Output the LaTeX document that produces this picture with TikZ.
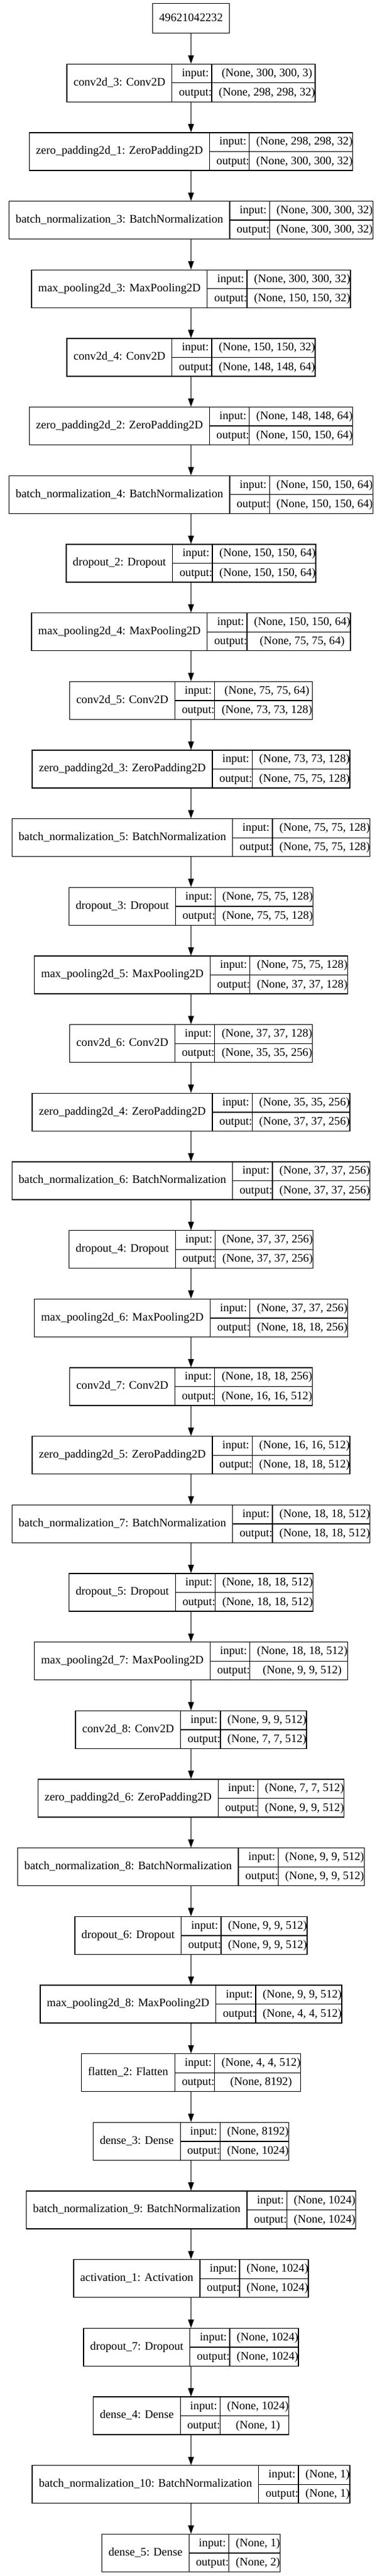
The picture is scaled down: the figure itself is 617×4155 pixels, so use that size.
\documentclass[tikz,border=0pt]{standalone}
\usepackage{fontspec}
\setmainfont{Liberation Serif}
\usetikzlibrary{arrows.meta}
\newcommand\kfnt{\fontsize{18.67}{22}\selectfont}
\tikzset{
  lay/.style={draw=black, line width=1.33pt, rectangle, inner sep=0pt, font=\kfnt},
  arr/.style={line width=1.33pt, -{Triangle[length=13.33pt,width=9.33pt]}},
}
\newcommand\kercell[1]{\rule[-9.93pt]{0pt}{29.83pt}\hspace{10.67pt}#1\hspace{10.67pt}}
\newcommand\kerlab[1]{\hspace{10.67pt}#1\hspace{10.67pt}}
% #1 name, #2 row, #3 label, #4 input shape, #5 output shape
\newcommand\kerlayer[5]{%
  \node[lay] (#1) at (308.5,{133.8+(#2-1)*110.67}) {%
    \setlength\arrayrulewidth{1.33pt}\renewcommand\arraystretch{0}%
    \begin{tabular}{@{}c@{}|@{}c@{}|@{}c@{}}
      \kerlab{#3} &
      \begin{tabular}{@{}c@{}}\kercell{input:}\\\hline\kercell{output:}\end{tabular} &
      \begin{tabular}{@{}c@{}}\kercell{#4}\\\hline\kercell{#5}\end{tabular}
    \end{tabular}};%
}
\begin{document}
\begin{tikzpicture}[x=1pt,y=-1pt]
\useasboundingbox[fill=white] (0,0) rectangle (617,4155);
\node[lay, minimum height=48pt, inner xsep=10.67pt, text height=14pt, text depth=4pt] (l0) at (308.5,29.7) {49621042232};
\kerlayer{l1}{1}{conv2d\_3: Conv2D}{(None, 300, 300, 3)}{(None, 298, 298, 32)}
\kerlayer{l2}{2}{zero\_padding2d\_1: ZeroPadding2D}{(None, 298, 298, 32)}{(None, 300, 300, 32)}
\kerlayer{l3}{3}{batch\_normalization\_3: BatchNormalization}{(None, 300, 300, 32)}{(None, 300, 300, 32)}
\kerlayer{l4}{4}{max\_pooling2d\_3: MaxPooling2D}{(None, 300, 300, 32)}{(None, 150, 150, 32)}
\kerlayer{l5}{5}{conv2d\_4: Conv2D}{(None, 150, 150, 32)}{(None, 148, 148, 64)}
\kerlayer{l6}{6}{zero\_padding2d\_2: ZeroPadding2D}{(None, 148, 148, 64)}{(None, 150, 150, 64)}
\kerlayer{l7}{7}{batch\_normalization\_4: BatchNormalization}{(None, 150, 150, 64)}{(None, 150, 150, 64)}
\kerlayer{l8}{8}{dropout\_2: Dropout}{(None, 150, 150, 64)}{(None, 150, 150, 64)}
\kerlayer{l9}{9}{max\_pooling2d\_4: MaxPooling2D}{(None, 150, 150, 64)}{(None, 75, 75, 64)}
\kerlayer{l10}{10}{conv2d\_5: Conv2D}{(None, 75, 75, 64)}{(None, 73, 73, 128)}
\kerlayer{l11}{11}{zero\_padding2d\_3: ZeroPadding2D}{(None, 73, 73, 128)}{(None, 75, 75, 128)}
\kerlayer{l12}{12}{batch\_normalization\_5: BatchNormalization}{(None, 75, 75, 128)}{(None, 75, 75, 128)}
\kerlayer{l13}{13}{dropout\_3: Dropout}{(None, 75, 75, 128)}{(None, 75, 75, 128)}
\kerlayer{l14}{14}{max\_pooling2d\_5: MaxPooling2D}{(None, 75, 75, 128)}{(None, 37, 37, 128)}
\kerlayer{l15}{15}{conv2d\_6: Conv2D}{(None, 37, 37, 128)}{(None, 35, 35, 256)}
\kerlayer{l16}{16}{zero\_padding2d\_4: ZeroPadding2D}{(None, 35, 35, 256)}{(None, 37, 37, 256)}
\kerlayer{l17}{17}{batch\_normalization\_6: BatchNormalization}{(None, 37, 37, 256)}{(None, 37, 37, 256)}
\kerlayer{l18}{18}{dropout\_4: Dropout}{(None, 37, 37, 256)}{(None, 37, 37, 256)}
\kerlayer{l19}{19}{max\_pooling2d\_6: MaxPooling2D}{(None, 37, 37, 256)}{(None, 18, 18, 256)}
\kerlayer{l20}{20}{conv2d\_7: Conv2D}{(None, 18, 18, 256)}{(None, 16, 16, 512)}
\kerlayer{l21}{21}{zero\_padding2d\_5: ZeroPadding2D}{(None, 16, 16, 512)}{(None, 18, 18, 512)}
\kerlayer{l22}{22}{batch\_normalization\_7: BatchNormalization}{(None, 18, 18, 512)}{(None, 18, 18, 512)}
\kerlayer{l23}{23}{dropout\_5: Dropout}{(None, 18, 18, 512)}{(None, 18, 18, 512)}
\kerlayer{l24}{24}{max\_pooling2d\_7: MaxPooling2D}{(None, 18, 18, 512)}{(None, 9, 9, 512)}
\kerlayer{l25}{25}{conv2d\_8: Conv2D}{(None, 9, 9, 512)}{(None, 7, 7, 512)}
\kerlayer{l26}{26}{zero\_padding2d\_6: ZeroPadding2D}{(None, 7, 7, 512)}{(None, 9, 9, 512)}
\kerlayer{l27}{27}{batch\_normalization\_8: BatchNormalization}{(None, 9, 9, 512)}{(None, 9, 9, 512)}
\kerlayer{l28}{28}{dropout\_6: Dropout}{(None, 9, 9, 512)}{(None, 9, 9, 512)}
\kerlayer{l29}{29}{max\_pooling2d\_8: MaxPooling2D}{(None, 9, 9, 512)}{(None, 4, 4, 512)}
\kerlayer{l30}{30}{flatten\_2: Flatten}{(None, 4, 4, 512)}{(None, 8192)}
\kerlayer{l31}{31}{dense\_3: Dense}{(None, 8192)}{(None, 1024)}
\kerlayer{l32}{32}{batch\_normalization\_9: BatchNormalization}{(None, 1024)}{(None, 1024)}
\kerlayer{l33}{33}{activation\_1: Activation}{(None, 1024)}{(None, 1024)}
\kerlayer{l34}{34}{dropout\_7: Dropout}{(None, 1024)}{(None, 1024)}
\kerlayer{l35}{35}{dense\_4: Dense}{(None, 1024)}{(None, 1)}
\kerlayer{l36}{36}{batch\_normalization\_10: BatchNormalization}{(None, 1)}{(None, 1)}
\kerlayer{l37}{37}{dense\_5: Dense}{(None, 1)}{(None, 2)}
\foreach \a [evaluate=\a as \b using int(\a+1)] in {0,...,36}
  \draw[arr] (l\a) -- (l\b);
\end{tikzpicture}
\end{document}
